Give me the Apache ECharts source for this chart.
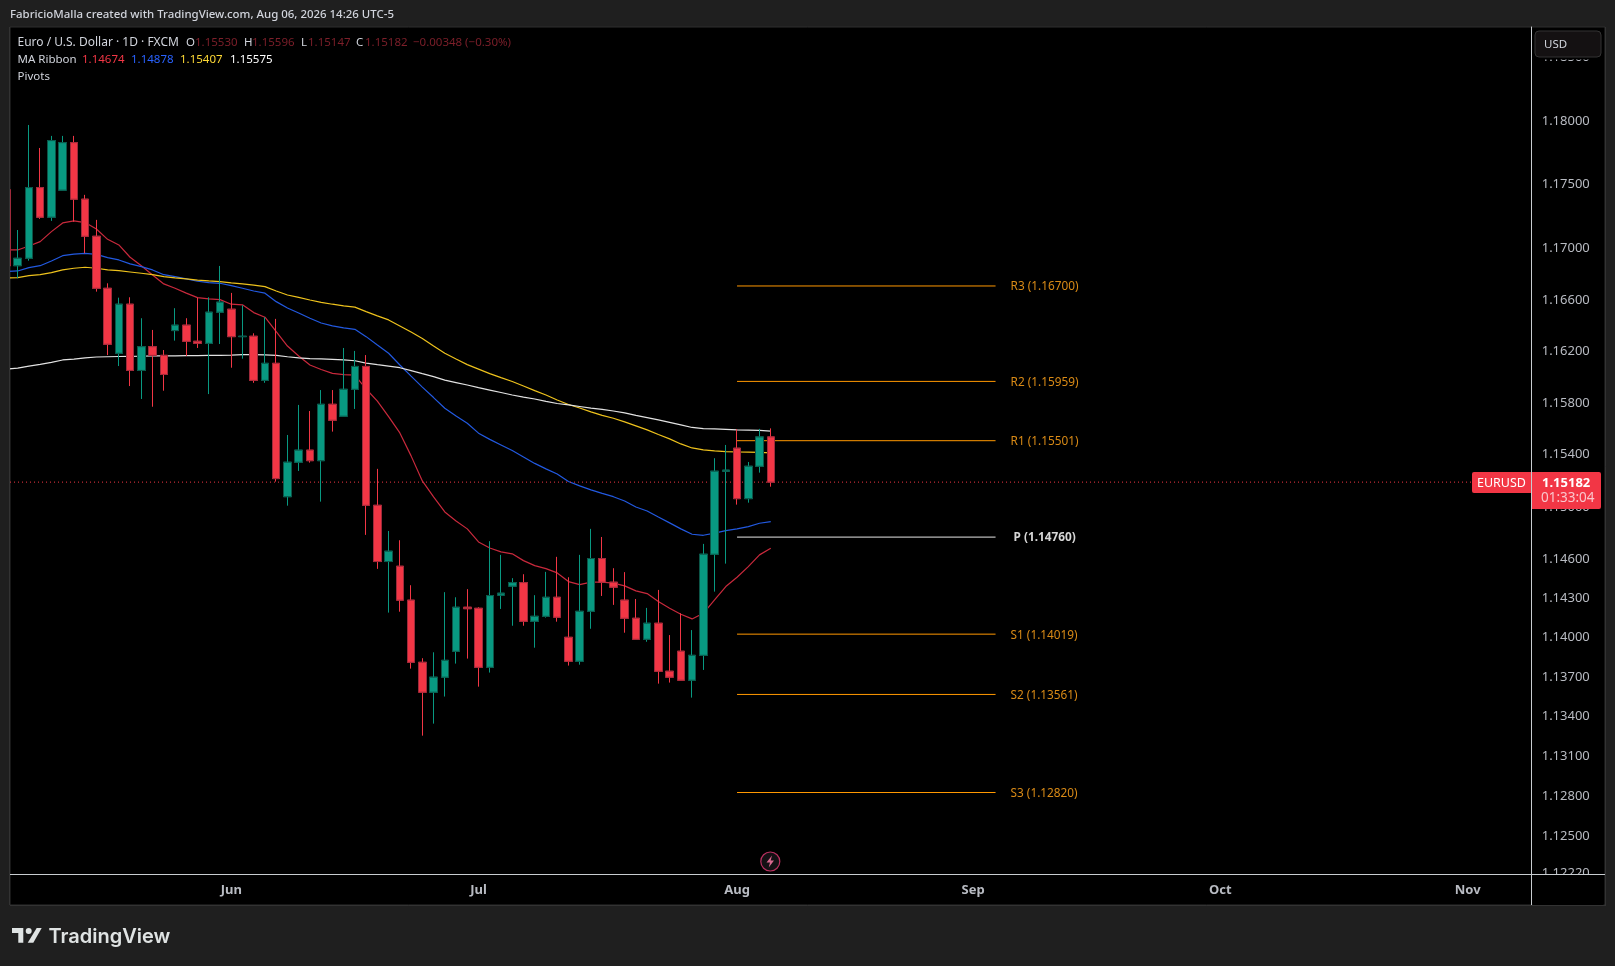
<!DOCTYPE html>
<html>
<head>
<meta charset="utf-8">
<style>html,body{margin:0;padding:0;background:#1f1f1f;overflow:hidden}#c{width:1615px;height:966px}</style>
<script src="https://cdn.jsdelivr.net/npm/echarts@6/dist/echarts.min.js"></script>
</head>
<body>
<div id="c"></div>
<script>
// Bar dates run Mon-Fri; index 20 = Jun 1 2026, 65 = Aug 3 2026, 68 = Aug 6 2026.
const opens = [1.17451,1.16858,1.16916,1.17469,1.17237,1.17449,1.17822,1.17378,1.17088,1.16682,1.16177,1.16558,1.16044,1.16228,1.16161,1.16353,1.16395,1.16270,1.16254,1.16496,1.16519,1.16306,1.16309,1.15967,1.16099,1.15070,1.15335,1.15428,1.15347,1.15782,1.15690,1.15898,1.16075,1.15004,1.14573,1.14537,1.14278,1.13805,1.13578,1.13692,1.13889,1.14224,1.14216,1.13767,1.14316,1.14385,1.14412,1.14117,1.14155,1.14300,1.13995,1.13813,1.14193,1.14596,1.14415,1.14278,1.14140,1.13980,1.14102,1.13737,1.13889,1.13669,1.13858,1.14629,1.15266,1.15443,1.15055,1.15304,1.15530];
const closes = [1.16858,1.16916,1.17469,1.17237,1.17838,1.17822,1.17378,1.17088,1.16682,1.16247,1.16558,1.16044,1.16228,1.16161,1.16013,1.16395,1.16270,1.16254,1.16496,1.16574,1.16306,1.16309,1.15967,1.16099,1.15209,1.15335,1.15428,1.15347,1.15782,1.15659,1.15898,1.16075,1.15004,1.14573,1.14652,1.14278,1.13805,1.13578,1.13692,1.13820,1.14224,1.14213,1.13767,1.14313,1.14331,1.14412,1.14117,1.14155,1.14300,1.14148,1.13813,1.14193,1.14596,1.14415,1.14377,1.14140,1.13980,1.14102,1.13737,1.13692,1.13669,1.13858,1.14629,1.15266,1.15274,1.15055,1.15304,1.15530,1.15182];
const lows = [1.16825,1.16760,1.16897,1.17224,1.17208,1.17449,1.17202,1.16955,1.16656,1.16163,1.16078,1.15923,1.15823,1.15763,1.15887,1.16275,1.16156,1.16218,1.15861,1.16249,1.16065,1.16135,1.15948,1.15948,1.15186,1.15001,1.15268,1.15332,1.15032,1.15571,1.15690,1.15746,1.14777,1.14517,1.14183,1.14190,1.13757,1.13249,1.13340,1.13545,1.13795,1.13833,1.13620,1.13727,1.14211,1.14083,1.14083,1.13916,1.14145,1.14114,1.13780,1.13787,1.14060,1.14310,1.14242,1.14030,1.13980,1.13961,1.13643,1.13651,1.13669,1.13537,1.13747,1.14343,1.14557,1.15009,1.15024,1.15255,1.15147];
const highs = [1.17490,1.17137,1.17961,1.17780,1.17875,1.17875,1.17875,1.17412,1.17216,1.16721,1.16609,1.16612,1.16449,1.16358,1.16202,1.16527,1.16449,1.16609,1.16612,1.16856,1.16646,1.16550,1.16332,1.16457,1.16444,1.15545,1.15777,1.15730,1.15892,1.15892,1.16218,1.16195,1.16163,1.15284,1.14807,1.14736,1.14392,1.13836,1.13881,1.14339,1.14300,1.14362,1.14224,1.14729,1.14624,1.14446,1.14476,1.14316,1.14494,1.14609,1.14453,1.14624,1.14823,1.14761,1.14522,1.14492,1.14287,1.14219,1.14356,1.14012,1.14178,1.14050,1.14708,1.15366,1.15468,1.15589,1.15337,1.15592,1.15596];
const maRed = [1.16981,1.16981,1.17012,1.17046,1.17124,1.17192,1.17208,1.17195,1.17145,1.17064,1.17020,1.16924,1.16858,1.16786,1.16716,1.16682,1.16644,1.16609,1.16599,1.16594,1.16558,1.16553,1.16493,1.16457,1.16345,1.16233,1.16156,1.16086,1.16051,1.16021,1.16012,1.16008,1.15900,1.15807,1.15686,1.15561,1.15384,1.15191,1.15068,1.14953,1.14884,1.14823,1.14723,1.14677,1.14647,1.14632,1.14580,1.14542,1.14519,1.14486,1.14420,1.14397,1.14415,1.14415,1.14408,1.14387,1.14349,1.14328,1.14267,1.14216,1.14171,1.14135,1.14178,1.14280,1.14382,1.14453,1.14534,1.14624,1.14674];
const maBlue = [1.16812,1.16817,1.16843,1.16858,1.16895,1.16936,1.16949,1.16955,1.16947,1.16921,1.16903,1.16872,1.16851,1.16825,1.16788,1.16773,1.16755,1.16737,1.16726,1.16721,1.16703,1.16682,1.16661,1.16644,1.16578,1.16529,1.16490,1.16449,1.16412,1.16389,1.16374,1.16363,1.16306,1.16241,1.16177,1.16086,1.16000,1.15915,1.15834,1.15751,1.15692,1.15636,1.15559,1.15511,1.15468,1.15425,1.15376,1.15326,1.15284,1.15245,1.15187,1.15153,1.15122,1.15095,1.15070,1.15037,1.14991,1.14960,1.14914,1.14869,1.14823,1.14782,1.14774,1.14790,1.14810,1.14823,1.14840,1.14866,1.14878];
const maYellow = [1.16763,1.16765,1.16781,1.16788,1.16804,1.16825,1.16838,1.16846,1.16838,1.16825,1.16819,1.16809,1.16799,1.16788,1.16773,1.16763,1.16755,1.16745,1.16739,1.16734,1.16724,1.16716,1.16706,1.16695,1.16661,1.16630,1.16611,1.16591,1.16572,1.16558,1.16545,1.16535,1.16500,1.16467,1.16436,1.16389,1.16342,1.16292,1.16233,1.16177,1.16132,1.16089,1.16054,1.16019,1.15988,1.15958,1.15923,1.15888,1.15854,1.15815,1.15780,1.15753,1.15723,1.15696,1.15674,1.15646,1.15615,1.15584,1.15549,1.15515,1.15476,1.15445,1.15430,1.15422,1.15417,1.15414,1.15413,1.15411,1.15407];
const maWhite = [1.16054,1.16062,1.16078,1.16091,1.16107,1.16125,1.16132,1.16142,1.16148,1.16150,1.16152,1.16153,1.16154,1.16156,1.16156,1.16157,1.16158,1.16159,1.16160,1.16161,1.16163,1.16167,1.16167,1.16165,1.16160,1.16150,1.16142,1.16136,1.16133,1.16130,1.16125,1.16119,1.16101,1.16089,1.16078,1.16065,1.16043,1.16019,1.15996,1.15969,1.15950,1.15931,1.15911,1.15892,1.15873,1.15854,1.15838,1.15823,1.15804,1.15788,1.15777,1.15765,1.15753,1.15742,1.15730,1.15715,1.15696,1.15679,1.15661,1.15642,1.15623,1.15603,1.15594,1.15592,1.15588,1.15584,1.15582,1.15580,1.15575];
const pivotNames = ['R3','R2','R1','P','S1','S2','S3'];
const pivotValues = [1.16700,1.15959,1.15501,1.14760,1.14019,1.13561,1.12820];
const pivotStartBar = 65, pivotEndBar = 88;
const lastPrice = 1.15182;
const priceTicks = [1.185,1.18,1.175,1.17,1.166,1.162,1.158,1.154,1.15,1.146,1.143,1.14,1.137,1.134,1.131,1.128,1.125,1.1222];
const monthNames = ['Jun','Jul','Aug','Sep','Oct','Nov'];
const monthBars = [20,42,65,86,108,130];

const GREEN='#089981', RED='#f23645', GREEN_EDGE='#0c5548', RED_EDGE='#9e2a3b';
const FONT='"Noto Sans", sans-serif';
const axisMinBar = 0.315, axisMaxBar = 135.7;
const idx = a => a.map((v,i)=>[i,v]);

const wicks = opens.map((o,i)=>[i,o,closes[i],lows[i],highs[i]]);
const bodies = opens.map((o,i)=>[i,o,closes[i],Math.min(o,closes[i]),Math.max(o,closes[i])]);

function maSeries(name,data,color){
  return {type:'line',name,data:idx(data),symbol:'none',z:1,silent:true,animation:false,
    lineStyle:{color,width:1.2}};
}
const pivotSeries = pivotNames.map((n,k)=>({
  type:'line',name:'Pivot '+n,z:1,symbol:'none',animation:false,silent:true,
  data:[[pivotStartBar,pivotValues[k]],[pivotEndBar,pivotValues[k]]],
  lineStyle:{color:n==='P'?'#e6e6e6':'#ff9800',width:1},
  endLabel:{show:true,distance:n==='P'?18:15,offset:[0,1],color:n==='P'?'#d6d6d6':'#d98a16',
    fontFamily:FONT,fontSize:11.8,fontWeight:n==='P'?'bold':'normal',
    formatter:n+' ('+pivotValues[k].toFixed(5)+')'}
}));
const T=(text,x,y,fill,extra)=>({type:'text',z:120,silent:true,style:Object.assign({text,x,y,fill,font:'11.5px '+FONT,textVerticalAlign:'middle'},extra||{})});
const R=(x,y,w,h,fill,z,extra)=>({type:'rect',z:z||110,silent:true,shape:Object.assign({x,y,width:w,height:h},extra&&extra.shape||{}),style:Object.assign({fill},extra&&extra.style||{})});
const L=(x1,y1,x2,y2,c)=>({type:'line',z:115,silent:true,shape:{x1,y1,x2,y2},style:{stroke:c,lineWidth:1}});
const D='#7d1f2a', LBL='#d1d4dc';

const option={
  backgroundColor:'#1f1f1f',animation:false,
  grid:{left:10,top:27,width:1521.7,height:847,containLabel:false},
  xAxis:{type:'value',min:axisMinBar,max:axisMaxBar,splitLine:{show:false},
    axisLine:{show:true,onZero:false,lineStyle:{color:'#c8ccd0',width:1}},axisTick:{show:false},
    axisLabel:{customValues:monthBars,color:'#b8bbc2',fontFamily:FONT,fontSize:13,fontWeight:'bold',margin:10,
      formatter:v=>monthNames[monthBars.indexOf(v)]}},
  yAxis:{type:'log',logBase:10,position:'right',min:1.12208,max:1.18735,splitLine:{show:false},
    axisLine:{show:true,onZero:false,lineStyle:{color:'#c8ccd0',width:1}},axisTick:{show:false},minorTick:{show:false},
    axisLabel:{customValues:priceTicks,color:'#b8bbc2',fontFamily:FONT,fontSize:13,margin:10,align:'left',
      rich:{p:{fontFamily:FONT,fontSize:13,color:'#b8bbc2',padding:[2,0,0,0]}},
      formatter:v=>'{p|'+Number(v).toFixed(5)+'}'}},
  series:[
    maSeries('MA 1',maRed,'#c8293c'),
    maSeries('MA 2',maBlue,'#2259e0'),
    maSeries('MA 3',maYellow,'#eec21c'),
    maSeries('MA 4',maWhite,'#e2e2e2'),
    {type:'line',name:'Last price',z:1,symbol:'none',silent:true,animation:false,
      data:[[axisMinBar,lastPrice],[axisMaxBar,lastPrice]],lineStyle:{color:RED,width:1,type:[1,3]}},
    ...pivotSeries,
    {type:'candlestick',name:'Wicks',z:3,barWidth:8,data:wicks,encode:{x:0,y:[1,2,3,4]},silent:true,animation:false,
      itemStyle:{color:GREEN,color0:RED,borderColor:GREEN,borderColor0:RED,borderWidth:1}},
    {type:'candlestick',name:'EURUSD',z:4,barWidth:8,data:bodies,encode:{x:0,y:[1,2,3,4]},silent:true,animation:false,
      itemStyle:{color:GREEN,color0:RED,borderColor:GREEN_EDGE,borderColor0:RED_EDGE,borderWidth:1}}
  ],
  graphic:{elements:[
    R(10,27,1595,878,'#000',-5,{style:{stroke:'#2e2e2e',lineWidth:1}}),
    R(0,27,9.7,878,'#1f1f1f',110),
    L(9.5,27,9.5,905,'#333'),
    R(1532.5,875,71,30,'#000',110),
    L(10,874.5,1605,874.5,'#c8ccd0'),
    L(1531.5,27,1531.5,905,'#c8ccd0'),
    L(1605.5,27,1605.5,906,'#333'),
    L(10,905.5,1605,905.5,'#333'),
    // Top of price scale
    R(1532.5,28,71,31.5,'#000',110),
    {type:'rect',z:112,silent:true,shape:{x:1535,y:31,width:66,height:26,r:4},style:{fill:'#141112',stroke:'#333',lineWidth:1}},
    T('USD',1544,44.5,'#d1d4dc'),
    // Price tags
    {type:'rect',z:112,silent:true,shape:{x:1472,y:472,width:59.5,height:21,r:[2,0,0,2]},style:{fill:RED}},
    {type:'rect',z:112,silent:true,shape:{x:1532,y:472,width:69,height:37,r:[0,2,2,0]},style:{fill:RED}},
    T('EURUSD',1477,483,'#fff',{font:'12.5px '+FONT}),
    T('1.15182',1542,483,'#fff',{font:'bold 13px '+FONT}),
    T('01:33:04',1541,498,'#f9c6cc',{font:'13.5px '+FONT}),
    // Header
    T('FabricioMalla created with TradingView.com, Aug 06, 2026 14:26 UTC-5',10,15,'#d1d4dc',{font:'500 11.45px '+FONT}),
    T('Euro / U.S. Dollar · 1D · FXCM',17.5,43,LBL,{font:'12px '+FONT}),
    T('O',186,43,LBL),T('1.15530',195,43,D),
    T('H',244,43,LBL),T('1.15596',252,43,D),
    T('L',301,43,LBL),T('1.15147',308,43,D),
    T('C',356,43,LBL),T('1.15182',365,43,D),
    T('−0.00348 (−0.30%)',413,43,D),
    T('MA Ribbon',17.5,60,LBL),
    T('1.14674',82,60,RED),T('1.14878',131,60,'#2962ff'),T('1.15407',180,60,'#fdd835'),T('1.15575',230,60,'#fff'),
    T('Pivots',17.5,77,LBL),
    // Logo
    {type:'polygon',z:120,silent:true,shape:{points:[[12,928],[23.3,928],[23.3,942.7],[18.3,942.7],[18.3,933],[12,933]]},style:{fill:'#dfe3e3'}},
    {type:'circle',z:120,silent:true,shape:{cx:28.7,cy:931,r:3},style:{fill:'#dfe3e3'}},
    {type:'polygon',z:120,silent:true,shape:{points:[[36.7,928],[41.7,928],[33.3,942.7],[27.7,942.7]]},style:{fill:'#dfe3e3'}},
    T('TradingView',48.5,937,'#dfe3e3',{font:'600 20px Inter, '+FONT}),
    // Lightning marker
    {type:'circle',z:120,silent:true,shape:{cx:770.3,cy:861.5,r:9.5},style:{fill:'#141014',stroke:'#b8305f',lineWidth:1.2}},
    {type:'polygon',z:121,silent:true,shape:{points:[[772,855.5],[766.5,862.5],[770,862.5],[768.7,867.5],[774,860.5],[770.7,860.5]]},style:{fill:'#d96a90'}}
  ]}
};
echarts.init(document.getElementById('c'),null,{renderer:'canvas'}).setOption(option);
</script>
</body>
</html>
